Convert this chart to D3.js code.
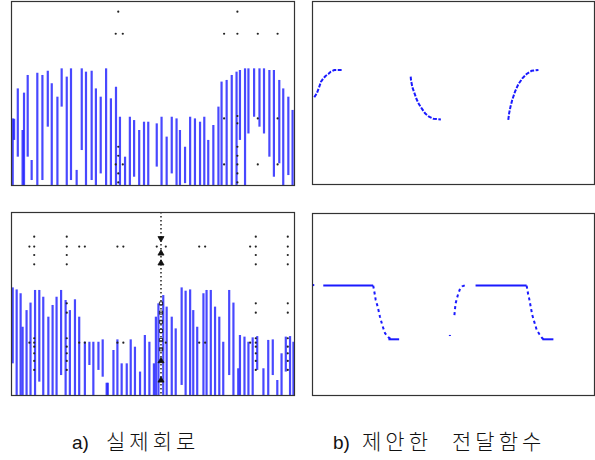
<!DOCTYPE html>
<html>
<head>
<meta charset="utf-8">
<script src="https://cdn.jsdelivr.net/npm/d3@7"></script>
<style>
  body { margin: 0; background: #fff; }
  svg { display: block; }
</style>
</head>
<body>
<div id="chart"></div>
<script>
// Values are in a normalized 0..100 time / level space for every panel.

// a) measured circuit, top: vertical sample bars [t, low, high]
const topBars = [
  [0.6, 0, 36.2], [1.1, 24.5, 36], [2.4, 15.4, 52.5], [4.1, 0, 29.9], [4.6, 0, 50.2],
  [5.9, 15.4, 59.8], [7.3, 2.7, 13.6], [9.3, 0, 61], [11.1, 2.7, 59.8], [13.0, 31.7, 62.1],
  [14.4, 0, 55.3], [16.4, 0, 48], [17.9, 42.6, 63.4], [19.7, 0, 58.9], [21.2, 2.7, 63.4],
  [23.2, 0, 8.2], [25.0, 19, 63.4], [26.5, 0, 61.6], [28.5, 2.7, 62.1], [30.0, 0, 52.5],
  [31.7, 6.3, 48], [33.6, 0, 63.4], [35.3, 0, 47.1], [37.1, 0, 53.4], [38.5, 0, 37.1],
  [40.3, 0, 15.4], [42.0, 0, 37.1], [43.5, 4.5, 35.3], [45.3, 0, 29.9], [47.0, 0, 34.4],
  [48.5, 0, 34.4], [51.5, 10, 33.5], [53.2, 0, 37.1], [55.0, 0, 26.3], [56.8, 6.3, 37.1],
  [58.5, 0, 36.2], [59.7, 0, 29.9], [61.5, 1, 20.8], [63.3, 0, 37.1], [65.0, 0, 36.2],
  [66.8, 0, 34.4], [68.3, 0, 37.1], [69.7, 0, 24.5], [71.5, 0, 32.6], [73.3, 0, 42.6],
  [74.4, 0, 56.2], [76.2, 0, 57.1], [78.0, 0, 59.8], [79.7, 0, 61.6], [80.9, 24.5, 62.5],
  [82.7, 0, 63.4], [83.9, 28, 63.4], [85.9, 37.1, 63.4], [87.8, 31.7, 63.4], [89.4, 28, 63.4],
  [91.3, 15.4, 62.5], [92.9, 4.5, 62.5], [94.8, 11.8, 57.1], [96.2, 0, 52.5], [98.0, 5.4, 48],
  [99.5, 0, 40.8]
];
const topDots = [
  [37.9, 94.2], [80, 94.2], [37, 82.2], [39.5, 82.2], [75.3, 82.2], [80, 82.2], [87.2, 82.2],
  [94.2, 82.2], [75.3, 36.2], [80, 37.5], [80, 33.5], [87.2, 36.2], [94.2, 36.2],
  [37.9, 20.8], [37.9, 15.9], [37, 11.2], [39.5, 11.2], [37.9, 6.3], [37.9, 1.4],
  [80, 20.8], [80, 15.9], [75.3, 11.2], [80, 11.2], [87.2, 11.2], [94.2, 11.2], [80, 6.3], [80, 1.4]
];

// a) measured circuit, bottom
const botBars = [
  [0.6, 17.3, 58.8], [2.0, 0, 57.7], [3.4, 0, 55.6], [4.1, 0, 37.3], [5.5, 0, 46.4],
  [6.9, 0, 50.5], [8.5, 0, 57.4], [10.0, 7.3, 57.4], [11.4, 0, 53.7], [13.2, 0, 42.8],
  [14.7, 0, 49.2], [16.1, 0, 53.7], [17.7, 10.9, 57.4], [19.3, 0, 51.9], [20.8, 0, 46.4],
  [22.6, 0, 52.3], [24.1, 0, 42.8], [26.1, 0, 29.1], [27.7, 16.4, 29.1], [29.1, 0, 29.1],
  [30.9, 13.7, 29.1], [32.4, 10, 30.4], [33.8, 0, 6.7], [34.2, 0, 6.7], [36.2, 0, 24.6],
  [37.6, 0, 30.4], [39.1, 0, 17.3], [40.9, 0, 17.3], [42.3, 0, 30.4], [43.8, 0, 26.4],
  [45.6, 0, 12.8], [47.3, 0, 32.8], [48.9, 0, 29.1], [50.5, 0, 17.3], [51.2, 0, 42.8],
  [52.1, 0, 50.1], [53.8, 0, 54.6], [55.0, 0, 48.3], [56.8, 0, 42.8], [58.2, 0, 36.4],
  [60.3, 5.5, 58.8], [61.7, 0, 57.0], [63.3, 0, 57.7], [64.4, 0, 46.4], [65.8, 0, 37.3],
  [68.0, 0, 55.6], [69.1, 0, 57.4], [70.6, 0, 57.4], [72.1, 0, 48.3], [73.6, 0, 42.8],
  [75.0, 0, 29.1], [77.1, 10.9, 57.4], [78.6, 0, 50.5], [80.3, 0, 14.6], [80.9, 0, 32.8],
  [82.5, 0, 31.9], [83.9, 0, 29.1], [85.4, 0, 31.5], [87.0, 13.7, 32.2], [89.2, 0, 14.6],
  [90.9, 0, 30.1], [92.5, 10.9, 30.4], [94.1, 0, 8.2], [95.6, 0, 22.8], [97.1, 12.8, 31.9],
  [98.6, 0, 32.2], [99.8, 0, 29.1]
];
const botDots = [
  [8.2, 86.5], [6.5, 81.1], [8.2, 81.1], [8.2, 76.5], [8.2, 71.4],
  [19.7, 86.5], [19.7, 81.1], [19.7, 76.5], [19.7, 71.4],
  [24.1, 81.1], [26.1, 81.1], [37.6, 81.1], [39.7, 81.1], [51.5, 81.1], [54.7, 81.1],
  [66.5, 81.1], [68.6, 81.1], [84.5, 81.1], [86.5, 81.1],
  [86.5, 86.5], [86.5, 76.5], [86.5, 71.4], [97.8, 86.5], [97.8, 81.1], [97.8, 76.5], [97.8, 71.4],
  [86.5, 50.1], [86.5, 45.0], [97.8, 50.1], [97.8, 45.0],
  [6.5, 28.6], [8.2, 28.6], [24.1, 28.6], [26.1, 28.6], [37.6, 28.6], [39.7, 28.6],
  [54.7, 28.6], [66.5, 28.6], [68.6, 28.6], [84.5, 28.6], [86.5, 28.6],
  [8.2, 31.0], [8.2, 26.4], [8.2, 22.8], [8.2, 18.6], [8.2, 13.7],
  [19.7, 50.1], [19.7, 45.0], [19.7, 31.0], [19.7, 26.4], [19.7, 22.8], [19.7, 18.6], [19.7, 13.7],
  [86.5, 31.0], [86.5, 26.4], [86.5, 22.8], [86.5, 18.6], [86.5, 13.7],
  [97.8, 31.0], [97.8, 26.4], [97.8, 22.8], [97.8, 18.6], [97.8, 13.7]
];
const botMarkerT = 53.0;
const botMarkers = [
  [85.6, 'down'], [77.4, 'up'], [72.0, 'up'], [50.0, 'sq'], [45.0, 'sq'], [40.0, 'sq'],
  [35.0, 'sq'], [30.0, 'sq'], [25.0, 'sq'], [18.6, 'up'], [8.0, 'up']
];

// b) proposed transfer function, top
const tfTop = [
  [[0.8, 47.4], [1.7, 49.5], [2.5, 52.8], [3.2, 55.9], [4.0, 57.7], [4.8, 59.0], [5.8, 60.1], [6.7, 61.4], [7.9, 62.3], [10.5, 62.3]],
  [[35.0, 58.7], [35.1, 56.8], [35.6, 52.8], [37.1, 46.3], [37.9, 43.7], [38.9, 41.3], [40.1, 38.6], [41.5, 36.8], [43.0, 35.7], [45.7, 35.3]],
  [[69.6, 35.0], [69.9, 38.6], [70.4, 42.3], [71.0, 45.9], [72.0, 50.5], [73.2, 54.6], [74.6, 57.7], [76.1, 60.1], [77.9, 61.9], [80.3, 62.3]]
];

// b) proposed transfer function, bottom: flat (solid) and edge (dashed) pieces
const tfBotFlat = [
  [[0.2, 60.4], [0.8, 60.4]],
  [[4.0, 60.1], [21.7, 60.1]],
  [[27.1, 30.6], [30.9, 30.6]],
  [[58.0, 60.1], [76.1, 60.1]],
  [[81.7, 30.6], [85.6, 30.6]]
];
const tfBotEdge = [
  [[21.7, 60.1], [22.0, 57.7], [22.6, 52.2], [23.3, 48.5], [24.1, 43.0], [24.9, 38.5], [25.9, 33.9], [27.1, 31.7], [28.0, 30.6]],
  [[48.9, 32.4], [48.9, 33.0]],
  [[50.5, 43.9], [50.9, 50.2], [51.7, 54.8], [52.5, 58.4], [53.3, 59.7], [54.3, 60.3]],
  [[76.1, 60.1], [76.7, 55.0], [77.0, 53.1], [78.1, 44.0], [78.8, 40.3], [79.7, 35.7], [80.6, 33.5], [81.7, 31.1], [82.5, 30.6]]
];

// caption pieces: [label, words...]
const captions = [
  ['a)', '실제회로'],
  ['b)', '제안한', '전달함수']
];

const width = 595, height = 460;
const blue = '#1a1aff';

const svg = d3.select('#chart').append('svg')
  .attr('width', width)
  .attr('height', height);

const panels = [
  { x: 11, y: 1, w: 283, h: 184 },
  { x: 312, y: 1, w: 282, h: 183 },
  { x: 11, y: 212, w: 283, h: 183 },
  { x: 312, y: 213, w: 282, h: 182 }
];

function scales(p) {
  return {
    x: d3.scaleLinear().domain([0, 100]).range([p.x, p.x + p.w]),
    y: d3.scaleLinear().domain([0, 100]).range([p.y + p.h, p.y])
  };
}

function frame(p) {
  svg.append('rect')
    .attr('x', p.x + 0.5).attr('y', p.y + 0.5)
    .attr('width', p.w).attr('height', p.h)
    .attr('fill', 'none')
    .attr('stroke', '#333')
    .attr('stroke-width', 1.2);
}

function drawBars(p, bars, dots) {
  const s = scales(p);
  const g = svg.append('g');
  g.selectAll('line')
    .data(bars)
    .join('line')
    .attr('x1', d => s.x(d[0])).attr('x2', d => s.x(d[0]))
    .attr('y1', d => s.y(d[1])).attr('y2', d => s.y(d[2]))
    .attr('stroke', blue)
    .attr('stroke-opacity', 0.8)
    .attr('stroke-width', 2.2);
  g.selectAll('circle')
    .data(dots)
    .join('circle')
    .attr('cx', d => s.x(d[0])).attr('cy', d => s.y(d[1]))
    .attr('r', 1.1)
    .attr('fill', '#222');
  return s;
}

function drawCurves(p, curves, dash) {
  const s = scales(p);
  const line = d3.line().x(d => s.x(d[0])).y(d => s.y(d[1]));
  svg.append('g').selectAll('path')
    .data(curves)
    .join('path')
    .attr('d', line)
    .attr('fill', 'none')
    .attr('stroke', blue)
    .attr('stroke-width', 2)
    .attr('stroke-dasharray', dash);
}

// top-left
drawBars(panels[0], topBars, topDots);

// bottom-left with dotted marker line
const sb = drawBars(panels[2], botBars, botDots);
svg.append('line')
  .attr('x1', sb.x(botMarkerT)).attr('x2', sb.x(botMarkerT))
  .attr('y1', sb.y(100)).attr('y2', sb.y(0))
  .attr('stroke', '#111')
  .attr('stroke-width', 1.4)
  .attr('stroke-dasharray', '1.5,2.5');
const sym = { down: d3.symbolTriangle, up: d3.symbolTriangle, sq: d3.symbolSquare };
svg.append('g').selectAll('path')
  .data(botMarkers)
  .join('path')
  .attr('d', d => d3.symbol(sym[d[1]], d[1] === 'sq' ? 10 : 16)())
  .attr('transform', d => `translate(${sb.x(botMarkerT)},${sb.y(d[0])})` + (d[1] === 'down' ? ' rotate(180)' : ''))
  .attr('fill', d => d[1] === 'sq' ? 'none' : '#111')
  .attr('stroke', '#111')
  .attr('stroke-width', 0.8);

// right panels
drawCurves(panels[1], tfTop, '4,1.5');
drawCurves(panels[3], tfBotFlat, null);
drawCurves(panels[3], tfBotEdge, '3,3');

panels.forEach(frame);

// captions: label tight, Korean words spaced out
const capX = [[72, 106], [333, 362, 452]];
captions.forEach((parts, i) => {
  const t = svg.append('text')
    .attr('y', 449)
    .attr('fill', '#111');
  parts.forEach((p, j) => {
    t.append('tspan')
      .attr('x', capX[i][j])
      .attr('font-size', j === 0 ? 19 : 21)
      .attr('font-family', j === 0 ? '"Liberation Sans", Arial, sans-serif' : '"Noto Sans CJK KR", sans-serif')
      .attr('font-weight', 300)
      .attr('letter-spacing', j === 0 ? 0 : 4)
      .text(p);
  });
});
</script>
</body>
</html>
